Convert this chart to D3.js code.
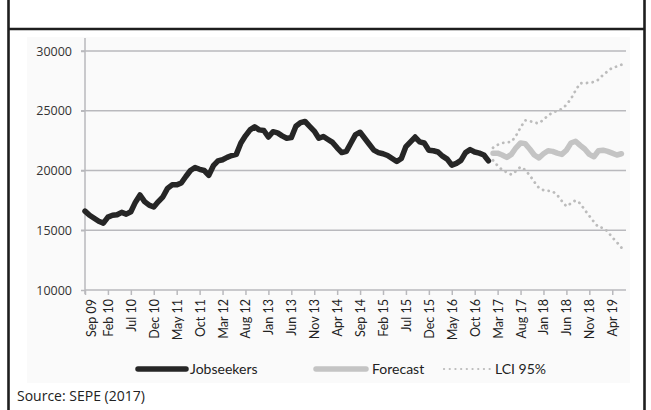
<!DOCTYPE html>
<html>
<head>
<meta charset="utf-8">
<script src="https://cdn.jsdelivr.net/npm/d3@7"></script>
<style>
html,body{margin:0;padding:0;background:#fff;}
svg{display:block;}
</style>
</head>
<body>
<svg id="chart" width="651" height="410"></svg>
<script>
// ---- data ----
const startMonth = "Sep 09";
const tickLabels = ["Sep 09","Feb 10","Jul 10","Dec 10","May 11","Oct 11","Mar 12","Aug 12","Jan 13","Jun 13","Nov 13","Apr 14","Sep 14","Feb 15","Jul 15","Dec 15","May 16","Oct 16","Mar 17","Aug 17","Jan 18","Jun 18","Nov 18","Apr 19"];
const yTicks = [10000,15000,20000,25000,30000];
// monthly values, Sep 09 .. Jan 17 (index 0..88)
const jobseekers = [16600,16250,16000,15750,15600,16100,16250,16300,16500,16350,
  16550,17350,17950,17400,17100,16950,17400,17800,18500,18800,
  18800,18950,19500,20000,20250,20100,20000,19600,20400,20800,
  20900,21100,21250,21350,22300,22900,23400,23650,23400,23350,
  22800,23250,23150,22900,22700,22750,23700,24000,24100,23700,
  23300,22700,22850,22600,22350,21900,21500,21600,22300,23000,
  23200,22700,22200,21700,21500,21400,21250,21000,20750,21000,
  22000,22400,22800,22400,22300,21700,21650,21550,21200,20950,
  20450,20600,20850,21500,21750,21550,21450,21300,20800];
// forecast & confidence bounds, Feb 17 .. Jun 19 (index 89..117)
const forecastStart = 89;
const forecast = [21450,21450,21300,21100,21350,21900,22300,22250,21800,21300,
  21050,21400,21650,21600,21450,21350,21700,22300,22450,22100,
  21800,21350,21150,21650,21700,21600,21450,21300,21400];
const upper = [21900,22150,22300,22350,22400,22900,23600,24200,24150,24000,
  23950,24250,24600,24850,25000,25150,25500,26000,26700,27300,
  27300,27350,27400,27600,28000,28300,28600,28700,28850];
const lower = [20850,20400,20050,19850,19650,19950,20300,20050,19600,19050,
  18550,18350,18300,18250,17950,17450,17000,17250,17500,17250,
  16700,16200,15700,15250,15200,14900,14400,14000,13550];
const legendNames = ["Jobseekers","Forecast","LCI 95%"];
const source = "Source: SEPE (2017)";

// ---- drawing ----
const svg = d3.select("#chart");
const C = {dark:"#262626", fc:"#c4c4c4", ci:"#bcbcbc", grid:"#b9b9bd", frame:"#1e1e1e"};

// frame
svg.append("rect").attr("x",27).attr("y",37).attr("width",603).attr("height",346).attr("fill","#fafafa");
svg.append("line").attr("x1",8.5).attr("x2",8.5).attr("y1",0).attr("y2",410).attr("stroke",C.frame).attr("stroke-width",2.6);
svg.append("line").attr("x1",644.5).attr("x2",644.5).attr("y1",0).attr("y2",410).attr("stroke",C.frame).attr("stroke-width",2.6);
svg.append("line").attr("x1",8).attr("x2",645).attr("y1",29).attr("y2",29).attr("stroke",C.frame).attr("stroke-width",2.6);

const x = d3.scaleLinear().domain([0,118]).range([85,626]);
const y = d3.scaleLinear().domain([10000,30000]).range([290,51]);

// gridlines
svg.append("g").selectAll("line").data(yTicks.slice(1)).join("line")
  .attr("x1",81).attr("x2",626).attr("y1",d=>y(d)).attr("y2",d=>y(d))
  .attr("stroke",C.grid).attr("stroke-width",1.5);

// y axis
const yAxis = d3.axisLeft(y).tickValues(yTicks).tickSize(4).tickPadding(9).tickFormat(d3.format("d"));
const gy = svg.append("g").attr("transform","translate(85,0)").call(yAxis);
gy.select(".domain").remove();
gy.selectAll(".tick line").attr("stroke",C.grid).attr("stroke-width",1.5);
gy.selectAll("text").attr("font-family","'Open Sans', sans-serif").attr("font-size",12.5).attr("fill","#333");
svg.append("line").attr("x1",85).attr("x2",85).attr("y1",38).attr("y2",294).attr("stroke",C.grid).attr("stroke-width",1.5);

// x axis
const tickIdx = tickLabels.map((d,i)=>i*5);
const xAxis = d3.axisBottom(x).tickValues(tickIdx).tickSize(5).tickPadding(4).tickFormat((d,i)=>tickLabels[i]);
const gx = svg.append("g").attr("transform","translate(0,290)").call(xAxis);
gx.select(".domain").attr("stroke",C.grid).attr("stroke-width",1.5).attr("d","M85,0H626");
gx.selectAll(".tick line").attr("stroke",C.grid).attr("stroke-width",1.5);
gx.selectAll(".tick text")
  .attr("font-family","Lato, sans-serif").attr("font-size",12.5).attr("fill","#222")
  .attr("text-anchor","end")
  .attr("transform",(d,i)=>`translate(${i===0?6:0},0) rotate(-90)`)
  .attr("x",-9).attr("y",0).attr("dy","0.36em");

// lines
const line = d3.line().x(d=>x(d[0])).y(d=>y(d[1])).curve(d3.curveLinear);
const js = jobseekers.map((v,i)=>[i,v]);
const fc = forecast.map((v,i)=>[forecastStart+i,v]);
const up = upper.map((v,i)=>[forecastStart+i,v]);
const lo = lower.map((v,i)=>[forecastStart+i,v]);

function dotted(sel){ return sel.attr("fill","none").attr("stroke",C.ci).attr("stroke-width",2.8)
  .attr("stroke-linecap","round").attr("stroke-dasharray","0.1 5.6"); }
dotted(svg.append("path").datum(up).attr("d",line));
dotted(svg.append("path").datum(lo).attr("d",line));
svg.append("path").datum(fc).attr("d",line).attr("fill","none").attr("stroke",C.fc)
  .attr("stroke-width",5.5).attr("stroke-linejoin","round").attr("stroke-linecap","round");
svg.append("path").datum(js).attr("d",line).attr("fill","none").attr("stroke",C.dark)
  .attr("stroke-width",5.5).attr("stroke-linejoin","round").attr("stroke-linecap","round");

// legend
const legY = 369;
const lg = svg.append("g").attr("font-family","Lato, sans-serif").attr("font-size",14).attr("fill","#222");
const legItems = [
  {name:legendNames[0], x1:138, x2:186, tx:190, st:C.dark, w:5.5, dash:null},
  {name:legendNames[1], x1:316, x2:366, tx:372, st:C.fc, w:5.5, dash:null},
  {name:legendNames[2], x1:444, x2:490, tx:495, st:C.ci, w:2.2, dash:"0.1 5.6"}
];
legItems.forEach(it=>{
  const l = lg.append("line").attr("x1",it.x1).attr("x2",it.x2).attr("y1",legY).attr("y2",legY)
    .attr("stroke",it.st).attr("stroke-width",it.w).attr("stroke-linecap","round");
  if(it.dash) l.attr("stroke-dasharray",it.dash);
  lg.append("text").attr("x",it.tx).attr("y",legY).attr("dy","0.36em").text(it.name);
});

svg.append("text").attr("x",17).attr("y",396).attr("dy","0.36em")
  .attr("font-family","'Open Sans', sans-serif").attr("font-size",14).attr("fill","#222").text(source);
</script>
</body>
</html>
